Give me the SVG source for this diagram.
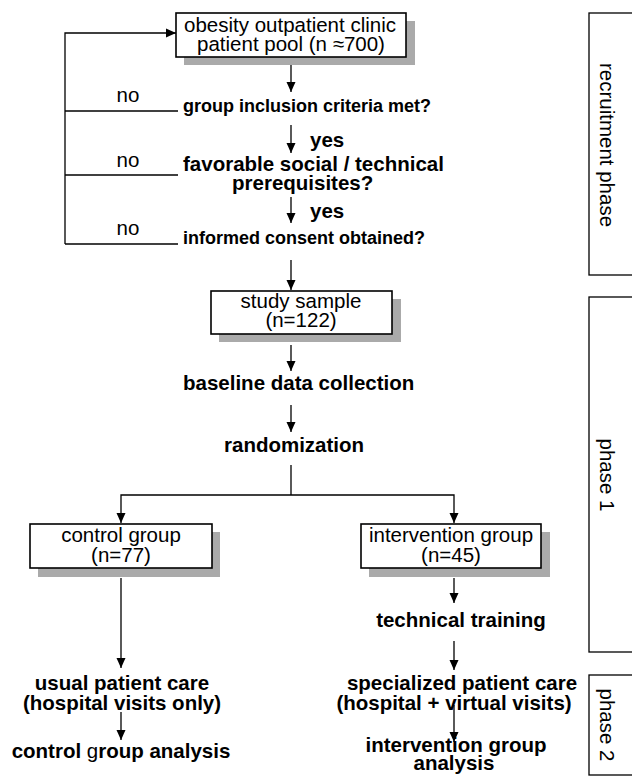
<svg xmlns="http://www.w3.org/2000/svg" width="632" height="780" viewBox="0 0 632 780">
<style>
.box{fill:#fff;stroke:#000;stroke-width:1.6}
.sh{fill:#aaa}
.t{font-family:"Liberation Sans",Arial,sans-serif;font-size:20.5px;fill:#000}
.b{font-family:"Liberation Sans",Arial,sans-serif;font-size:20.5px;font-weight:bold;fill:#000}
.s{font-size:18px}
.c{text-anchor:middle}
.ln{fill:none;stroke:#000;stroke-width:1.3}
.ph{fill:none;stroke:#000;stroke-width:1.3}
</style>
<defs>
<marker id="ah" markerWidth="10" markerHeight="10" refX="10" refY="5" orient="auto" markerUnits="userSpaceOnUse">
<path d="M0,0.5 L10,5 L0,9.5 z" fill="#000"/>
</marker>
</defs>
<rect width="632" height="780" fill="#fff"/>

<g id="connectors">
<path class="ln" d="M65,244 V33 H176" marker-end="url(#ah)"/>
<path class="ln" d="M178,111 H65"/>
<path class="ln" d="M178,175 H65"/>
<path class="ln" d="M178,244 H65"/>
<path class="ln" d="M291,65 V92" marker-end="url(#ah)"/>
<path class="ln" d="M291,125 V153" marker-end="url(#ah)"/>
<path class="ln" d="M291,197 V223" marker-end="url(#ah)"/>
<path class="ln" d="M291,260 V290" marker-end="url(#ah)"/>
<path class="ln" d="M291,345 V371" marker-end="url(#ah)"/>
<path class="ln" d="M291,405 V432" marker-end="url(#ah)"/>
<path class="ln" d="M291,465 V495"/>
<path class="ln" d="M291,495 H121 V523" marker-end="url(#ah)"/>
<path class="ln" d="M291,495 H454 V523" marker-end="url(#ah)"/>
<path class="ln" d="M121,578 V668" marker-end="url(#ah)"/>
<path class="ln" d="M121,712 V740" marker-end="url(#ah)"/>
<path class="ln" d="M454,578 V603" marker-end="url(#ah)"/>
<path class="ln" d="M454,641 V670" marker-end="url(#ah)"/>
<path class="ln" d="M454,705 V742" marker-end="url(#ah)"/>
</g>

<g id="no-labels">
<text class="t" x="128" y="102" text-anchor="middle">no</text>
<text class="t" x="128" y="167" text-anchor="middle">no</text>
<text class="t" x="128" y="235" text-anchor="middle">no</text>
<text class="b" x="310" y="147">yes</text>
<text class="b" x="310" y="218">yes</text>
</g>

<g id="pool">
<rect class="sh" x="184" y="21" width="231" height="44"/>
<rect class="box" x="176" y="13" width="230" height="44"/>
<text class="t c" x="290" y="32">obesity outpatient clinic</text>
<text class="t c" x="291" y="51">patient pool (n ≈700)</text>
</g>

<g id="inclusion">
<text class="b s" x="183" y="112">group inclusion criteria met?</text>
</g>

<g id="prereq">
<text class="b" x="183" y="171">favorable social / technical</text>
<text class="b" x="232" y="190">prerequisites?</text>
</g>

<g id="consent">
<text class="b s" x="183" y="244">informed consent obtained?</text>
</g>

<g id="sample">
<rect class="sh" x="219" y="299" width="182" height="43"/>
<rect class="box" x="211" y="291" width="181" height="43"/>
<text class="t c" x="301" y="308">study sample</text>
<text class="t c" x="301" y="327">(n=122)</text>
</g>

<g id="baseline">
<text class="b" x="183" y="390">baseline data collection</text>
</g>

<g id="randomization">
<text class="b" x="224" y="452">randomization</text>
</g>

<g id="control">
<rect class="sh" x="38" y="532" width="182" height="45"/>
<rect class="box" x="30" y="524" width="182" height="44"/>
<text class="t c" x="121" y="542">control group</text>
<text class="t c" x="121" y="562">(n=77)</text>
</g>

<g id="intervention">
<rect class="sh" x="369" y="532" width="181" height="45"/>
<rect class="box" x="361" y="524" width="180" height="44"/>
<text class="t c" x="451" y="542">intervention group</text>
<text class="t c" x="451" y="562">(n=45)</text>
</g>

<g id="training">
<text class="b c" x="461" y="627">technical training</text>
</g>

<g id="usual">
<text class="b c" x="122" y="690">usual patient care</text>
<text class="b c" x="122" y="710">(hospital visits only)</text>
</g>

<g id="specialized">
<text class="b c" x="462" y="690">specialized patient care</text>
<text class="b c" x="454" y="710">(hospital + virtual visits)</text>
</g>

<g id="control-analysis">
<text class="b c" x="121" y="758">control <tspan font-weight="normal">g</tspan>roup analysis</text>
</g>

<g id="intervention-analysis">
<text class="b c" x="456" y="752">intervention group</text>
<text class="b c" x="454" y="770">analysis</text>
</g>

<g id="phases">
<rect class="ph" x="589" y="13" width="60" height="262"/>
<text class="t c" transform="translate(600,145) rotate(90)" x="0" y="0">recruitment phase</text>
<rect class="ph" x="589" y="297" width="60" height="355"/>
<text class="t c" transform="translate(600,475) rotate(90)" x="0" y="0">phase 1</text>
<rect class="ph" x="589" y="675" width="60" height="100"/>
<text class="t c" transform="translate(600,725) rotate(90)" x="0" y="0">phase 2</text>
</g>
</svg>
